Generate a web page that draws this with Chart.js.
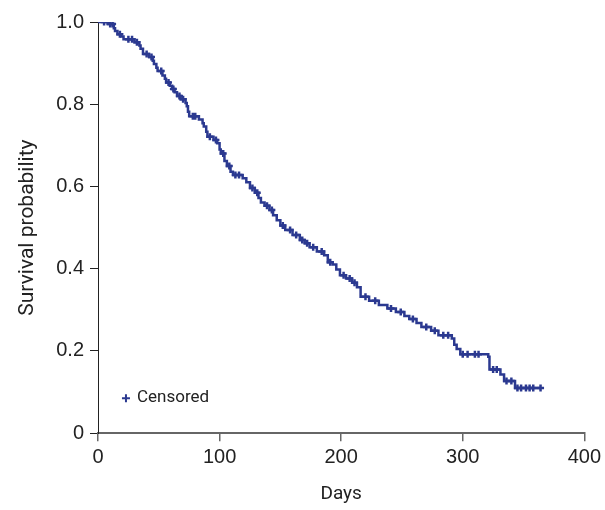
<!DOCTYPE html>
<html lang="en">
<head>
  <meta charset="UTF-8">
  <title>Survival curve</title>
  <script src="https://cdn.jsdelivr.net/npm/chart.js"></script>
  <style>
    html, body { margin: 0; padding: 0; background: #fff; }
    #wrap { width: 605px; height: 510px; }
  </style>
</head>
<body>
  <div id="wrap"><canvas id="kmChart"></canvas></div>
  <script>
    // step points: day of event and survival after it
    const eventDays = [0, 8, 13, 14, 16, 19, 21, 30, 34, 35, 37, 42, 45, 46, 48, 49, 53, 55, 56, 59,
      61, 63, 65, 68, 72, 73, 74, 75, 83, 86, 87, 89, 90, 95, 98, 100, 101, 104, 106, 109,
      111, 119, 122, 125, 129, 132, 134, 137, 141, 144, 147, 150, 154, 160, 166, 170, 174, 180, 186, 189,
      193, 196, 199, 204, 209, 213, 216, 223, 231, 238, 245, 252, 256, 262, 266, 274, 280, 291, 293, 295,
      298, 321, 322, 331, 334, 343, 364];
    const survival = [1.0, 0.995, 0.985, 0.978, 0.970, 0.965, 0.958, 0.951, 0.943, 0.935, 0.922, 0.915, 0.906, 0.898, 0.889, 0.881, 0.870, 0.862, 0.853, 0.845,
      0.837, 0.829, 0.820, 0.812, 0.803, 0.795, 0.782, 0.771, 0.763, 0.754, 0.746, 0.733, 0.721, 0.713, 0.705, 0.690, 0.680, 0.662, 0.650, 0.636,
      0.628, 0.620, 0.610, 0.596, 0.585, 0.572, 0.561, 0.553, 0.543, 0.530, 0.518, 0.505, 0.494, 0.482, 0.470, 0.462, 0.452, 0.442, 0.433, 0.416,
      0.410, 0.398, 0.384, 0.376, 0.366, 0.355, 0.332, 0.322, 0.312, 0.303, 0.295, 0.285, 0.278, 0.268, 0.258, 0.249, 0.238, 0.230, 0.215, 0.205,
      0.192, 0.186, 0.155, 0.143, 0.127, 0.110, 0.110];
    const censoredDays = [5, 10, 12, 18, 25, 28, 32, 40, 44, 52, 58, 62, 67, 70, 78, 80, 92, 97, 103, 108,
      113, 116, 127, 131, 139, 143, 152, 158, 163, 168, 172, 177, 184, 191, 202, 207, 211, 220, 228, 241,
      249, 259, 270, 277, 284, 288, 300, 304, 310, 313, 325, 328, 336, 340, 345, 348, 352, 355, 358, 364];
    const xTicks = [0, 100, 200, 300, 400];
    const yTicks = [0, 0.2, 0.4, 0.6, 0.8, 1.0];

    const lineColor = '#2b3990';

    // survival value in effect at a given day (for placing censor marks)
    function survAt(day) {
      let s = survival[0];
      for (let i = 0; i < eventDays.length; i++) {
        if (eventDays[i] <= day) s = survival[i];
      }
      return s;
    }

    const curvePts = eventDays.map((d, i) => ({ x: d, y: survival[i] }));
    const censorPts = censoredDays.map(d => ({ x: d, y: survAt(d) }));

    const legendPlugin = {
      id: 'censorLegend',
      afterDraw(chart) {
        const c = chart.ctx;
        const xs = chart.scales.x, ys = chart.scales.y;
        const px = xs.getPixelForValue(23), py = ys.getPixelForValue(0.085);
        c.save();
        c.strokeStyle = lineColor;
        c.lineWidth = 2;
        c.beginPath();
        c.moveTo(px - 4, py); c.lineTo(px + 4, py);
        c.moveTo(px, py - 4); c.lineTo(px, py + 4);
        c.stroke();
        c.fillStyle = '#222';
        c.font = '17px Roboto';
        c.textBaseline = 'middle';
        c.fillText('Censored', px + 11, py);
        c.restore();
      }
    };

    new Chart(document.getElementById('kmChart'), {
      type: 'line',
      data: {
        datasets: [{
          data: curvePts,
          borderColor: lineColor,
          borderWidth: 2.5,
          stepped: 'before',
          pointRadius: 0,
          fill: false
        }, {
          data: censorPts,
          showLine: false,
          pointStyle: 'cross',
          pointRadius: 3.5,
          borderWidth: 2.5,
          borderColor: lineColor,
          backgroundColor: lineColor
        }]
      },
      options: {
        responsive: true,
        maintainAspectRatio: false,
        animation: false,
        layout: { padding: { top: 22, right: 1, left: 11, bottom: 0 } },
        plugins: { legend: { display: false }, tooltip: { enabled: false } },
        scales: {
          x: {
            type: 'linear',
            min: 0, max: 400,
            afterBuildTicks: s => { s.ticks = xTicks.map(v => ({ value: v })); },
            grid: { drawOnChartArea: false, drawTicks: true, tickLength: 8, color: '#666', lineWidth: 1.5 },
            border: { color: '#666', width: 2 },
            ticks: { color: '#222', font: { family: 'Liberation Sans', size: 20 }, padding: 4 },
            title: { display: true, text: 'Days', color: '#222', font: { family: 'Roboto', size: 19 }, padding: { top: 10 } }
          },
          y: {
            min: 0, max: 1,
            afterBuildTicks: s => { s.ticks = yTicks.map(v => ({ value: v })); },
            grid: { drawOnChartArea: false, drawTicks: true, tickLength: 8, color: '#222', lineWidth: 1 },
            border: { color: '#222', width: 1 },
            ticks: {
              color: '#222', font: { family: 'Liberation Sans', size: 20 }, padding: 6,
              callback: v => v === 0 ? '0' : v.toFixed(1)
            },
            title: { display: true, text: 'Survival probability', color: '#222', font: { family: 'Roboto', size: 21 }, padding: { bottom: 10 } }
          }
        }
      },
      plugins: [legendPlugin]
    });
  </script>
</body>
</html>
